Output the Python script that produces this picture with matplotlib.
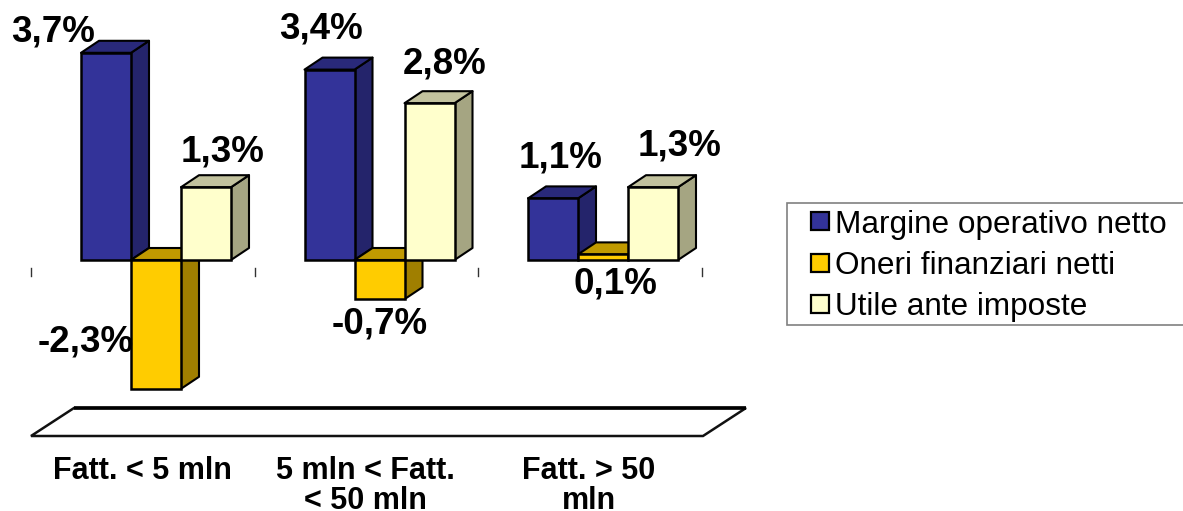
import numpy as np
import matplotlib
matplotlib.use("Agg")
import matplotlib.pyplot as plt
from matplotlib.patches import Patch, Rectangle

plt.rcParams['font.family'] = ['Liberation Sans', 'DejaVu Sans']

categories = ["Fatt. < 5 mln", "5 mln < Fatt.\n< 50 mln", "Fatt. > 50\nmln"]
series_names = ["Margine operativo netto", "Oneri finanziari netti", "Utile ante imposte"]
margine = [3.7, 3.4, 1.1]
oneri = [-2.3, -0.7, 0.1]
utile = [1.3, 2.8, 1.3]
value_labels = [["3,7%", "3,4%", "1,1%"], ["-2,3%", "-0,7%", "0,1%"], ["1,3%", "2,8%", "1,3%"]]

W, H = 1183, 511
PX_X = 223.5  # pixels per group
PX_Y = 56.0   # pixels per 1%
dx = 18 / PX_X
dy = 12 / PX_Y
bar_w = 50 / PX_X

front = ['#333399', '#FFCC00', '#FFFFCC']
side = ['#24246B', '#A07F00', '#A5A582']
top = ['#29297A', '#C09A00', '#C2C29E']

# label offsets from the end of each bar, in pixels
label_off = [[(-53, 21), (-9, 41), (8, 40)],
             [(-70, 47), (0, -25), (12, -30)],
             [(17, 35), (15, 39), (27, 41)]]

fig = plt.figure(figsize=(W / 100, H / 100), dpi=100)
ax = fig.add_axes([0, 0, 1, 1])
ax.set_xlim(-156 / PX_X, (W - 156) / PX_X)
ax.set_ylim(-(H - 260) / PX_Y, 260 / PX_Y)
ax.axis('off')

# floor
floor_y = -176 / PX_Y
fdx, fdy = 43 / PX_X, 28 / PX_Y
fx0, fx1 = -125 / PX_X, 547 / PX_X
ax.fill([fx0, fx1, fx1 + fdx, fx0 + fdx], [floor_y, floor_y, floor_y + fdy, floor_y + fdy],
        facecolor='white', edgecolor='#111111', lw=1.8, joinstyle='miter')
ax.plot([fx0 + fdx, fx1 + fdx], [floor_y + fdy, floor_y + fdy], color='black', lw=2.6,
        solid_capstyle='butt')

# tick marks under the baseline
for i in range(4):
    ax.plot([fx0 + i, fx0 + i], [-8 / PX_Y, -16 / PX_Y], color='#333333', lw=1)

all_vals = [margine, oneri, utile]
for g in range(len(categories)):
    for s, vals in enumerate(all_vals):
        v = vals[g]
        x0 = g + (s - 1) * bar_w - bar_w / 2
        x1 = x0 + bar_w
        hi = max(v, 0)
        lo = min(v, 0)
        ax.fill([x1, x1 + dx, x1 + dx, x1], [lo, lo + dy, hi + dy, hi],
                facecolor=side[s], edgecolor='black', lw=1.5, joinstyle='round')
        ax.fill([x0, x0 + dx, x1 + dx, x1], [hi, hi + dy, hi + dy, hi],
                facecolor=top[s], edgecolor='black', lw=1.5, joinstyle='round')
        ax.bar((x0 + x1) / 2, hi - lo, bottom=lo, width=bar_w, color=front[s],
               edgecolor='black', lw=1.8)

for g in range(len(categories)):
    for s, vals in enumerate(all_vals):
        v = vals[g]
        ax.annotate(value_labels[s][g], xy=(g + (s - 1) * bar_w, v), xytext=label_off[s][g],
                    textcoords='offset pixels', ha='center', va='center',
                    fontsize=26.5, fontweight='bold', color='black')

for g, name in enumerate(categories):
    ax.text(g - 14 / PX_X, -196 / PX_Y, name, ha='center', va='top',
            fontsize=22, fontweight='bold', color='black', linespacing=0.98)

# legend box runs off the right edge
fig.add_artist(Rectangle((787 / W, 1 - 325 / H), 420 / W, 122 / H, transform=fig.transFigure,
                         facecolor='white', edgecolor='#808080', lw=1.2, zorder=-1))
handles = [Patch(facecolor=front[i], edgecolor='black', lw=1.6, label=series_names[i]) for i in range(3)]
leg = ax.legend(handles=handles, loc='center left', bbox_to_anchor=(811 / W, 1 - 266 / H),
                bbox_transform=fig.transFigure, borderaxespad=0, fontsize=22.7,
                handlelength=0.56, handleheight=0.5, handletextpad=0.2, labelspacing=0.36,
                borderpad=0, frameon=False)

plt.savefig("out.png", dpi=100)
